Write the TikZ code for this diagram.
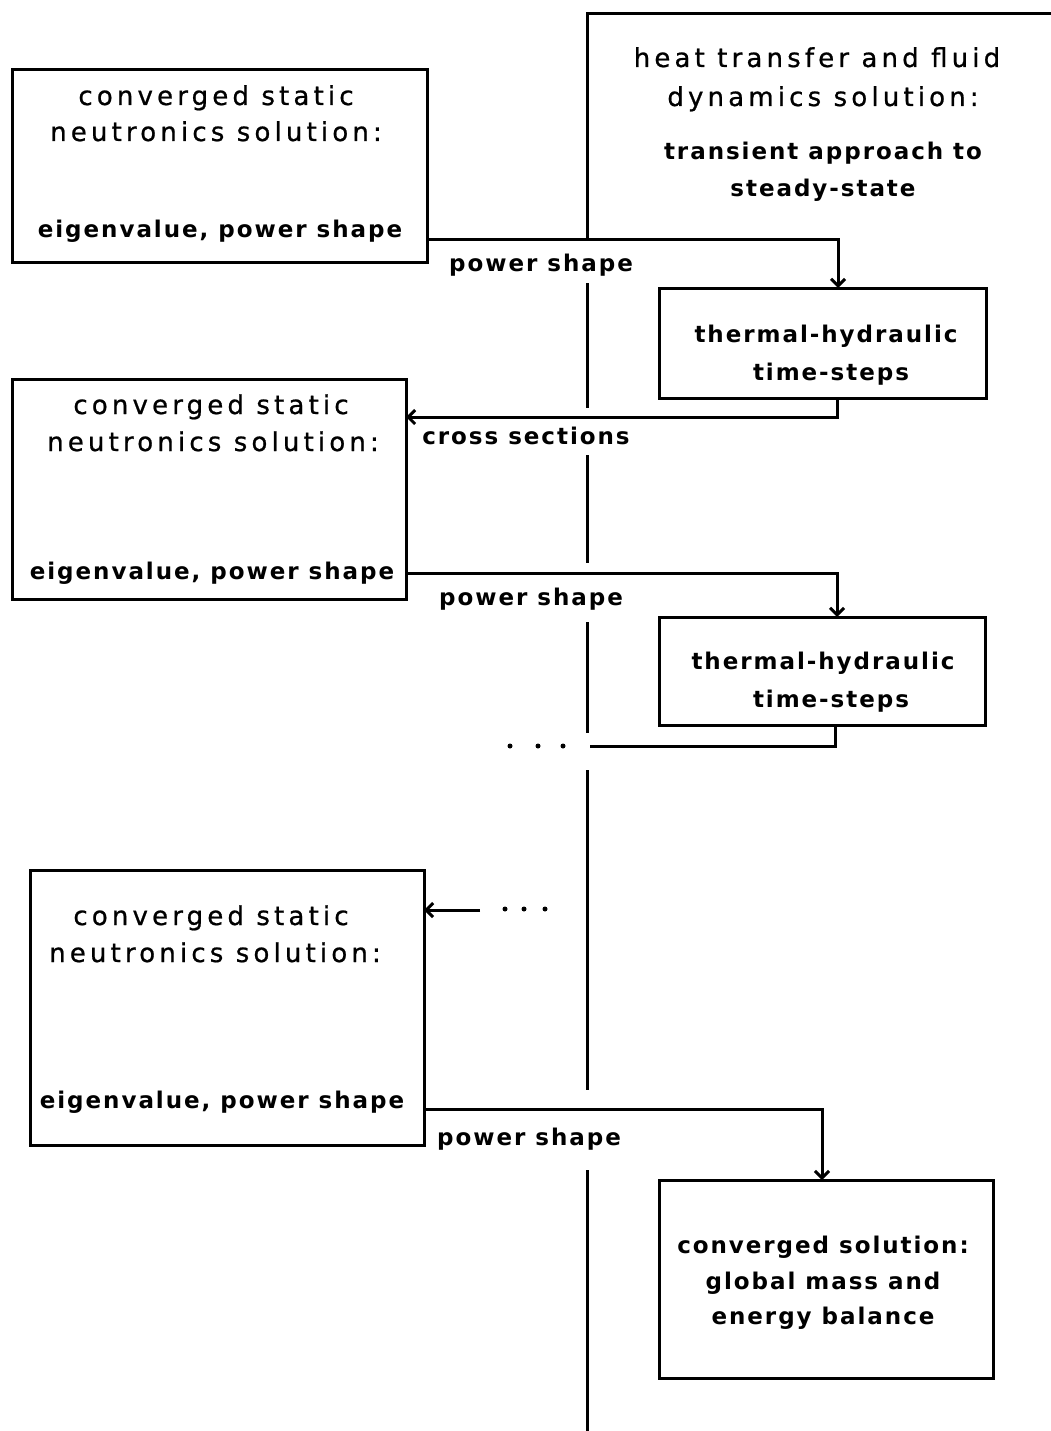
\documentclass[tikz,border=0pt]{standalone}
\usepackage{fontspec}
\setmainfont{DejaVu Sans}
\newfontfamily\headfont{DejaVu Sans}[LetterSpace=16, UprightFeatures={FakeBold=0.8}]
\newfontfamily\bodyfont{DejaVu Sans}[LetterSpace=8.5]
\usetikzlibrary{arrows.meta}

\tikzset{
  box/.style={draw, line width=3pt, inner sep=0pt, outer sep=0pt},
  big/.style={font=\headfont\fontsize{26}{30}\selectfont, anchor=base, inner sep=0pt},
  small/.style={font=\bodyfont\bfseries\fontsize{23}{27}\selectfont, anchor=base, inner sep=0pt},
  wire/.style={line width=3pt},
  flow/.style={wire, -{Straight Barb[length=7pt,width=14pt]}},
  dot/.style={circle, fill, inner sep=0pt, minimum size=5pt}
}

\begin{document}
\begin{tikzpicture}[x=1pt,y=-1pt]
\useasboundingbox (0,0) rectangle (1050,1431);

% neutronics boxes (left column)
\node[box, minimum width=415pt, minimum height=192pt] (n1) at (219.5,166) {};
\node[big] (n1a) at (216,105) {converged static};
\node[big] (n1b) at (216,141) {neutronics solution:};
\node[small] (n1c) at (220,238) {eigenvalue, power shape};

\node[box, minimum width=394pt, minimum height=220pt] (n2) at (209,489) {};
\node[big] (n2a) at (211,414) {converged static};
\node[big] (n2b) at (213,451) {neutronics solution:};
\node[small] (n2c) at (212,579) {eigenvalue, power shape};

\node[box, minimum width=394pt, minimum height=275pt] (n3) at (227,1007.5) {};
\node[big] (n3a) at (211,925) {converged static};
\node[big] (n3b) at (215,962) {neutronics solution:};
\node[small] (n3c) at (222,1108) {eigenvalue, power shape};

% heat transfer column heading
\node[big] (h1) at (817,67) {heat transfer and fluid};
\node[big] (h2) at (823,106) {dynamics solution:};
\node[small] (h3) at (823,160) {transient approach to};
\node[small] (h4) at (823,197) {steady-state};

% thermal-hydraulic boxes (right column)
\node[box, minimum width=327pt, minimum height=110pt] (t1) at (822.5,343) {};
\node[small] (t1a) at (826,342) {thermal-hydraulic};
\node[small] (t1b) at (831,380) {time-steps};

\node[box, minimum width=326pt, minimum height=108pt] (t2) at (822,671) {};
\node[small] (t2a) at (823,669) {thermal-hydraulic};
\node[small] (t2b) at (831,707) {time-steps};

\node[box, minimum width=334pt, minimum height=198pt] (f) at (826,1279) {};
\node[small] (fa) at (823,1253) {converged solution:};
\node[small] (fb) at (823,1289) {global mass and};
\node[small] (fc) at (823,1324) {energy balance};

% separating spine between the two columns
\coordinate (s0) at (1052,14);
\coordinate (s1) at (587,14);
\draw[wire] (s0) -- (s1) -- (587,240);
\draw[wire] (587,283) -- (587,408);
\draw[wire] (587,455) -- (587,563);
\draw[wire] (587,622) -- (587,733);
\draw[wire] (587,770) -- (587,1090);
\draw[wire] (587,1170) -- (587,1433);

% data flow between the solvers
\coordinate (r1) at (838,240);
\coordinate (r2) at (837,417);
\coordinate (r3) at (837,573);
\coordinate (r4) at (835,746);
\coordinate (r4e) at (590,746);
\coordinate (r5) at (480,910);
\coordinate (r6) at (822,1109);

\draw[flow] (n1.east |- r1) -| (t1.north -| r1);
\draw[flow] (t1.south -| r2) |- (n2.east |- r2);
\draw[flow] (n2.east |- r3) -| (t2.north -| r3);
\draw[wire] (t2.south -| r4) |- (r4e);
\draw[flow] (r5) -- (n3.east |- r5);
\draw[flow] (n3.east |- r6) -| (f.north -| r6);

\node[small] (l1) at (541,272) {power shape};
\node[small] (l2) at (526,444) {cross sections};
\node[small] (l3) at (531,605) {power shape};
\node[small] (l4) at (529,1145) {power shape};

% continuation dots
\node[dot] (d1) at (510,746) {};
\node[dot] (d2) at (538,746) {};
\node[dot] (d3) at (563,746) {};
\node[dot] (d4) at (505,909) {};
\node[dot] (d5) at (524,909) {};
\node[dot] (d6) at (545,909) {};
\end{tikzpicture}
\end{document}
